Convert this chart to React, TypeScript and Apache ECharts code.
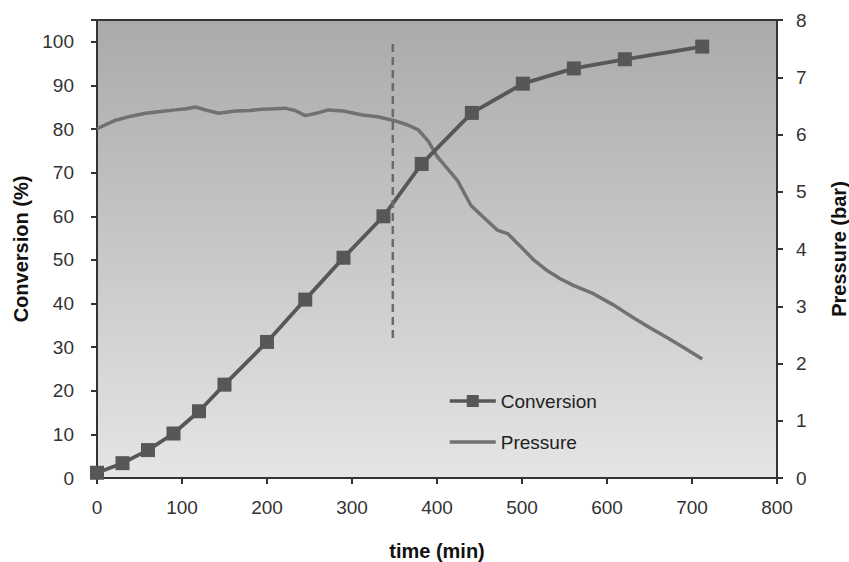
import React, { useEffect, useRef } from "react";
import * as echarts from "echarts";

const convTime = [0, 30, 60, 90, 120, 150, 200, 245, 290, 337, 382, 441, 501, 561, 621, 712];
const convValue = [1.2, 3.4, 6.4, 10.2, 15.3, 21.4, 31.2, 40.9, 50.5, 60.0, 72.0, 83.7, 90.4, 93.9, 96.0, 98.9];

const presTime = [0, 10, 22, 40, 57, 75, 92, 105, 116, 130, 143, 163, 180, 194, 210, 221, 233, 245, 258, 272, 290, 312, 330, 348, 365, 378, 390, 400, 412, 424, 440, 455, 471, 483, 498, 513, 530, 545, 561, 584, 608, 631, 651, 671, 692, 712];
const presValue = [6.1, 6.17, 6.25, 6.32, 6.37, 6.4, 6.43, 6.45, 6.48, 6.42, 6.37, 6.41, 6.42, 6.44, 6.45, 6.46, 6.42, 6.33, 6.37, 6.43, 6.41, 6.34, 6.31, 6.25, 6.17, 6.08, 5.88, 5.62, 5.41, 5.2, 4.76, 4.55, 4.33, 4.27, 4.05, 3.82, 3.62, 3.48, 3.36, 3.22, 3.02, 2.8, 2.62, 2.45, 2.26, 2.08];

const markerTime = [348, 348];
const markerValue = [99.5, 31.7];

const FONT = "'Liberation Sans', Arial, sans-serif";

export default function App() {
  const ref = useRef<HTMLDivElement>(null);
  useEffect(() => {
    if (!ref.current) return;
    const chart = echarts.init(ref.current, null, { renderer: "svg" });
    const axisLine = { show: true, lineStyle: { color: "#333", width: 2 } };
    const axisTick = { show: true, inside: false, length: 6, lineStyle: { color: "#333", width: 2 } };
    chart.setOption({
      animation: false,
      backgroundColor: "#fff",
      textStyle: { fontFamily: FONT },
      grid: {
        left: 97,
        right: 72,
        top: 20,
        bottom: 84,
        outerBoundsMode: "none",
        containLabel: false,
        show: true,
        borderColor: "#333",
        borderWidth: 2,
        backgroundColor: new echarts.graphic.LinearGradient(0, 0, 0, 1, [
          { offset: 0, color: "#aaaaaa" },
          { offset: 1, color: "#e5e5e5" },
        ]),
      },
      legend: {
        data: [
          { name: "Conversion" },
          { name: "Pressure", itemStyle: { opacity: 0 } },
        ],
        orient: "vertical",
        left: 448,
        top: 390,
        padding: 0,
        itemWidth: 46,
        itemHeight: 15,
        itemGap: 19,
        lineStyle: { width: 3.5 },
        textStyle: { fontSize: 19, color: "#222", fontFamily: FONT, lineHeight: 22 },
      },
      xAxis: {
        type: "value",
        min: 0,
        max: 800,
        interval: 100,
        name: "time (min)",
        nameLocation: "middle",
        nameGap: 63,
        nameTextStyle: { fontSize: 20, fontWeight: "bold", color: "#111", fontFamily: FONT },
        axisLine,
        axisTick,
        splitLine: { show: false },
        axisLabel: { fontSize: 19, color: "#333", margin: 20, fontFamily: FONT },
      },
      yAxis: [
        {
          type: "value",
          min: 0,
          max: 105,
          interval: 10,
          name: "Conversion (%)",
          nameLocation: "middle",
          nameGap: 60,
          nameTextStyle: { fontSize: 20, fontWeight: "bold", color: "#111", fontFamily: FONT },
          axisLine,
          axisTick,
          splitLine: { show: false },
          axisLabel: {
            fontSize: 19,
            color: "#333",
            margin: 23,
            fontFamily: FONT,
            formatter: (v: number) => (v > 100 ? "" : String(v)),
          },
        },
        {
          type: "value",
          min: 0,
          max: 8,
          interval: 1,
          position: "right",
          name: "Pressure (bar)",
          nameLocation: "middle",
          nameGap: 52,
          nameTextStyle: { fontSize: 20, fontWeight: "bold", color: "#111", fontFamily: FONT },
          axisLine,
          axisTick,
          splitLine: { show: false },
          axisLabel: { fontSize: 19, color: "#333", margin: 19, fontFamily: FONT },
        },
      ],
      series: [
        {
          name: "Pressure",
          type: "line",
          yAxisIndex: 1,
          data: presTime.map((t, i) => [t, presValue[i]]),
          symbol: "none",
          color: "#717171",
          lineStyle: { width: 3.5, color: "#717171" },
        },
        {
          name: "Conversion",
          type: "line",
          yAxisIndex: 0,
          data: convTime.map((t, i) => [t, convValue[i]]),
          symbol: "rect",
          symbolSize: 14,
          color: "#575757",
          itemStyle: { color: "#575757" },
          lineStyle: { width: 3.8, color: "#575757" },
        },
        {
          name: "marker",
          type: "line",
          yAxisIndex: 0,
          data: markerTime.map((t, i) => [t, markerValue[i]]),
          symbol: "none",
          lineStyle: { width: 2.5, color: "#6a6a6a", type: [8, 5] },
          silent: true,
        },
      ],
    });
    return () => chart.dispose();
  }, []);
  return (
    <div
      ref={ref}
      style={{ position: "fixed", left: 0, top: 0, width: 849, height: 562, background: "#fff" }}
    />
  );
}
